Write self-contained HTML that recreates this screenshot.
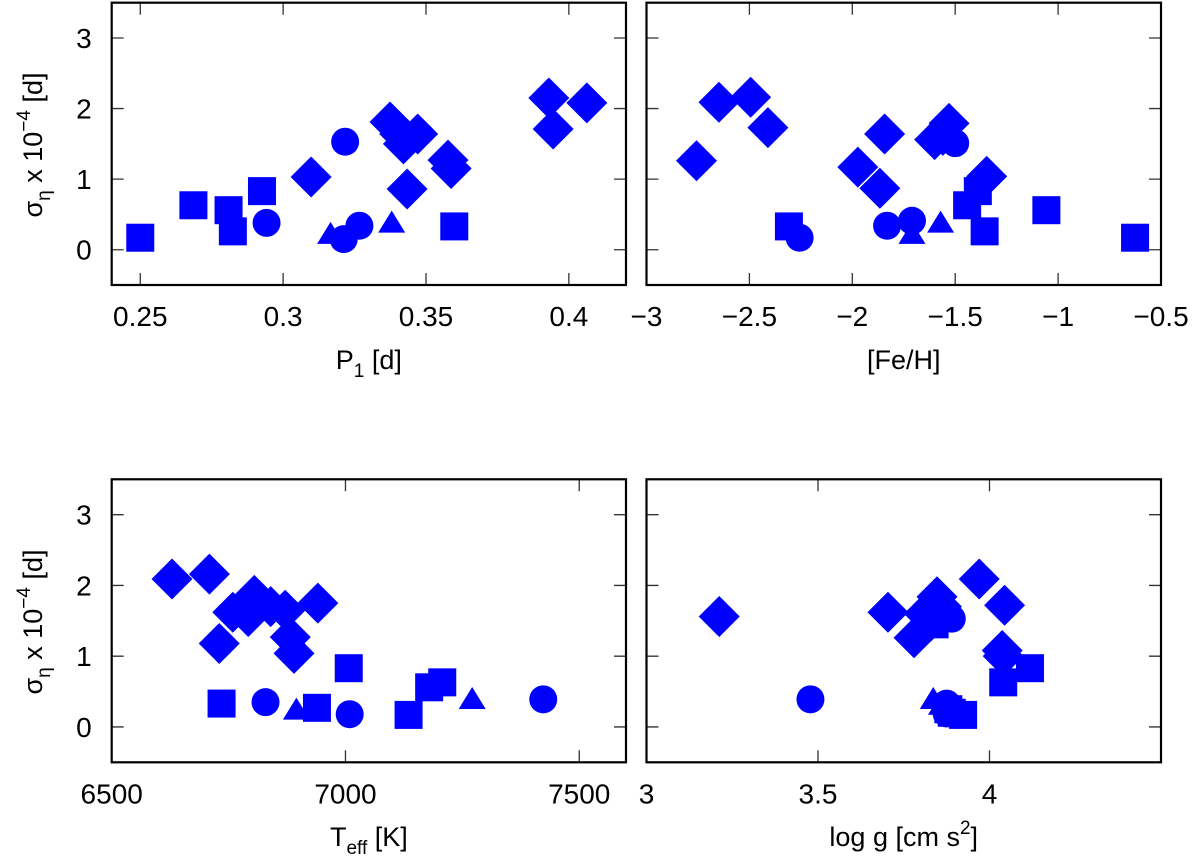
<!DOCTYPE html>
<html><head><meta charset="utf-8"><style>
html,body{margin:0;padding:0;background:#fff;}
svg{display:block;font-family:"Liberation Sans",sans-serif;}
</style></head><body>
<svg id="chart" width="1200" height="865" viewBox="0 0 1200 865" xmlns="http://www.w3.org/2000/svg"></svg>
<script>
// ---- data (per panel, per marker shape) ----
const yTicks = [0, 1, 2, 3];
const pTicks = [0.25, 0.3, 0.35, 0.4];
const pTickLabels = ["0.25", "0.3", "0.35", "0.4"];
const feTicks = [-3, -2.5, -2, -1.5, -1, -0.5];
const feTickLabels = ["\u22123", "\u22122.5", "\u22122", "\u22121.5", "\u22121", "\u22120.5"];
const tTicks = [6500, 7000, 7500];
const tTickLabels = ["6500", "7000", "7500"];
const gTicks = [3, 3.5, 4];
const gTickLabels = ["3", "3.5", "4"];

// Panel P1
const p1DiamondX = [0.3098, 0.3374, 0.3408, 0.3471, 0.3421, 0.3577, 0.3588, 0.3434, 0.393, 0.4063, 0.3945];
const p1DiamondY = [1.03, 1.81, 1.64, 1.64, 1.50, 1.27, 1.15, 0.86, 2.15, 2.08, 1.71];
const p1SquareX = [0.25, 0.2686, 0.2809, 0.2824, 0.2926, 0.3599];
const p1SquareY = [0.17, 0.63, 0.56, 0.26, 0.83, 0.33];
const p1CircleX = [0.3217, 0.2942, 0.3212, 0.3267];
const p1CircleY = [1.53, 0.38, 0.15, 0.34];
const p1TriX = [0.3166, 0.338];
const p1TriY = [0.21, 0.37];

// Panel Fe/H
const feDiamondX = [-2.757, -2.648, -2.494, -2.41, -1.973, -1.866, -1.843, -1.60, -1.53, -1.347, -1.56];
const feDiamondY = [1.26, 2.09, 2.16, 1.73, 1.17, 0.87, 1.64, 1.56, 1.79, 1.04, 1.62];
const feSquareX = [-2.308, -1.057, -0.626, -1.442, -1.39, -1.357];
const feSquareY = [0.33, 0.56, 0.17, 0.63, 0.83, 0.26];
const feCircleX = [-2.256, -1.831, -1.71, -1.50];
const feCircleY = [0.17, 0.34, 0.41, 1.51];
const feTriX = [-1.71, -1.571];
const feTriY = [0.21, 0.37];

// Panel Teff
const tDiamondX = [6629, 6709, 6759, 6805, 6792, 6871, 6941, 6882, 6890, 6730, 6840];
const tDiamondY = [2.09, 2.16, 1.62, 1.86, 1.56, 1.65, 1.75, 1.27, 1.04, 1.18, 1.70];
const tSquareX = [6735, 6939, 7007, 7135, 7179, 7207];
const tSquareY = [0.33, 0.27, 0.83, 0.17, 0.56, 0.63];
const tCircleX = [6829, 7009, 7423];
const tCircleY = [0.35, 0.18, 0.39];
const tTriX = [6895, 7271];
const tTriY = [0.23, 0.38];

// Panel log g
const gDiamondX = [3.212, 3.704, 3.78, 3.847, 3.81, 3.97, 4.044, 4.037, 3.83, 3.86, 4.04];
const gDiamondY = [1.56, 1.62, 1.26, 1.84, 1.60, 2.09, 1.72, 1.08, 1.50, 1.70, 1.0];
const gSquareX = [4.118, 4.04, 3.923, 3.89, 3.88, 3.84];
const gSquareY = [0.83, 0.63, 0.17, 0.20, 0.25, 1.45];
const gCircleX = [3.478, 3.89, 3.875, 3.875];
const gCircleY = [0.39, 1.53, 0.33, 0.19];
const gTriX = [3.836, 3.86];
const gTriY = [0.38, 0.30];

const NS = "http://www.w3.org/2000/svg";
const svg = document.getElementById("chart");
function mk(tag, attrs, parent){
  const e = document.createElementNS(NS, tag);
  for (const k in attrs) e.setAttribute(k, attrs[k]);
  (parent||svg).appendChild(e);
  return e;
}
const Y0 = -0.5, Y1 = 3.5;

function panel(name, x0, x1, top, bottom, xmin, xmax, xt, xtl, showYLabels){
  const g = mk("g", {});
  
  
  const sx = v => x0 + (v - xmin) / (xmax - xmin) * (x1 - x0);
  const sy = v => bottom - (v - Y0) / (Y1 - Y0) * (bottom - top);
  xt.forEach((t, i) => {
    const x = sx(t);
    const tk = mk("path", {d:`M${x},${bottom}v-12M${x},${top}v12`, stroke:"#333", "stroke-width":1.3}, g);
    
    
    const lb = mk("text", {x:x, y:bottom+41, "font-size":28, "text-anchor":"middle", fill:"#000"}, g);
    lb.textContent = xtl[i];
    
    
  });
  yTicks.forEach(t => {
    const y = sy(t);
    const tk = mk("path", {d:`M${x0},${y}h12M${x1},${y}h-12`, stroke:"#333", "stroke-width":1.3}, g);
    
    
    if (showYLabels){
      const lb = mk("text", {x:x0-20, y:y+10, "font-size":28, "text-anchor":"end", fill:"#000"}, g);
      lb.textContent = String(t);
      
      
    }
  });
  return {g, sx, sy};
}

function drawMarkers(p, xs, ys, shape){
  xs.forEach((xv, i) => {
    const cx = p.sx(xv), cy = p.sy(ys[i]);
    let e;
    if (shape === "diamond") e = mk("path", {d:`M${cx},${cy-20.5}L${cx+20.5},${cy}L${cx},${cy+20.5}L${cx-20.5},${cy}Z`, fill:"#0000ff"}, p.g);
    else if (shape === "square") e = mk("rect", {x:cx-14, y:cy-14, width:28, height:28, fill:"#0000ff"}, p.g);
    else if (shape === "circle") e = mk("ellipse", {cx:cx, cy:cy, rx:14, ry:14, fill:"#0000ff"}, p.g);
    else e = mk("path", {d:`M${cx},${cy-13}L${cx+13.5},${cy+9}L${cx-13.5},${cy+9}Z`, fill:"#0000ff"}, p.g);
    
    
  });
}

function frame(p, x0, x1, top, bottom){
  const r = mk("rect", {x:x0, y:top, width:x1-x0, height:bottom-top, fill:"none", stroke:"#000", "stroke-width":2.2}, p.g);
  
  
}

function yTitle(cy){
  const t = mk("text", {transform:`translate(42,${cy}) rotate(-90)`, "font-size":27, "text-anchor":"middle", fill:"#000"});
  t.innerHTML = 'σ<tspan dy="8" font-size="19">η</tspan><tspan dy="-8"> x 10</tspan><tspan dy="-12" font-size="19">−4</tspan><tspan dy="12"> [d]</tspan>';
  
  
}
function xTitle(cx, y, html, name){
  const t = mk("text", {x:cx, y:y, "font-size":27, "text-anchor":"middle", fill:"#000"});
  t.innerHTML = html;
  
  
}

const L0 = 111.7, L1 = 626, R0 = 646.5, R1 = 1161;
const T0 = 2.7, T1 = 285, B0 = 479.3, B1 = 762.3;

const pA = panel("period", L0, L1, T0, T1, 0.24, 0.42, pTicks, pTickLabels, true);
drawMarkers(pA, p1SquareX, p1SquareY, "square");
drawMarkers(pA, p1CircleX, p1CircleY, "circle");
drawMarkers(pA, p1TriX, p1TriY, "triangle");
drawMarkers(pA, p1DiamondX, p1DiamondY, "diamond");
frame(pA, L0, L1, T0, T1);

const pB = panel("metallicity", R0, R1, T0, T1, -3, -0.5, feTicks, feTickLabels, false);
drawMarkers(pB, feSquareX, feSquareY, "square");
drawMarkers(pB, feCircleX, feCircleY, "circle");
drawMarkers(pB, feTriX, feTriY, "triangle");
drawMarkers(pB, feDiamondX, feDiamondY, "diamond");
frame(pB, R0, R1, T0, T1);

const pC = panel("teff", L0, L1, B0, B1, 6500, 7600, tTicks, tTickLabels, true);
drawMarkers(pC, tSquareX, tSquareY, "square");
drawMarkers(pC, tCircleX, tCircleY, "circle");
drawMarkers(pC, tTriX, tTriY, "triangle");
drawMarkers(pC, tDiamondX, tDiamondY, "diamond");
frame(pC, L0, L1, B0, B1);

const pD = panel("logg", R0, R1, B0, B1, 3, 4.5, gTicks, gTickLabels, false);
drawMarkers(pD, gSquareX, gSquareY, "square");
drawMarkers(pD, gCircleX, gCircleY, "circle");
drawMarkers(pD, gTriX, gTriY, "triangle");
drawMarkers(pD, gDiamondX, gDiamondY, "diamond");
frame(pD, R0, R1, B0, B1);

yTitle(145);
yTitle(622);
xTitle((L0+L1)/2, 369, 'P<tspan dy="8" font-size="19">1</tspan><tspan dy="-8"> [d]</tspan>', 'x-axis-title-period');
xTitle((R0+R1)/2, 369, '[Fe/H]', 'x-axis-title-metallicity');
xTitle((L0+L1)/2, 846, 'T<tspan dy="8" font-size="19">eff</tspan><tspan dy="-8"> [K]</tspan>', 'x-axis-title-teff');
xTitle((R0+R1)/2, 846, 'log g [cm s<tspan dy="-12" font-size="19">2</tspan><tspan dy="12">]</tspan>', 'x-axis-title-logg');
</script>
</body></html>
